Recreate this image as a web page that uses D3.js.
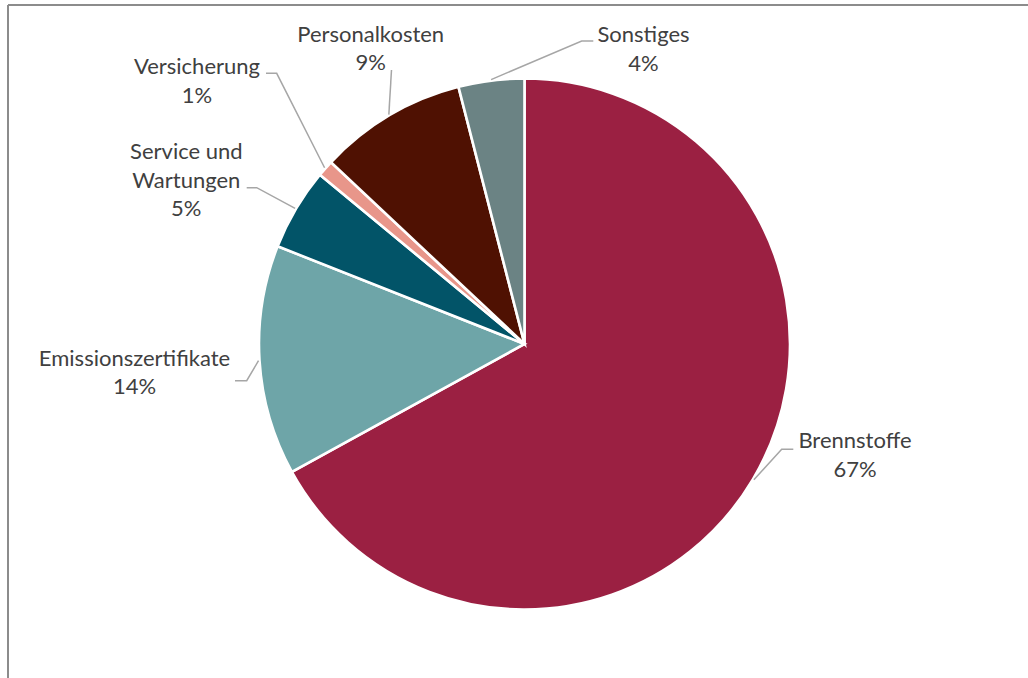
<!DOCTYPE html>
<html lang="de">
<head>
<meta charset="utf-8">
<title>Kostenstruktur</title>
<script src="https://cdn.jsdelivr.net/npm/d3@7"></script>
<style>
  html, body { margin: 0; padding: 0; background: #ffffff; }
  svg { display: block; }
  .label { font-family: Lato, "Open Sans", sans-serif; font-size: 22px; fill: #404040; }
</style>
</head>
<body>
<svg id="chart" width="1028" height="678"></svg>
<script>
// Cost shares in percent, clockwise from 12 o'clock
const categories = ["Brennstoffe", "Emissionszertifikate", "Service und Wartungen", "Versicherung", "Personalkosten", "Sonstiges"];
const shares = [67, 14, 5, 1, 9, 4];
const colors = ["#9B2042", "#6EA5A8", "#025468", "#E8968A", "#4F1102", "#6B8384"];

// Label text lines per slice (the category name may wrap)
const labelLines = [["Brennstoffe"], ["Emissionszertifikate"], ["Service und", "Wartungen"], ["Versicherung"], ["Personalkosten"], ["Sonstiges"]];

// Label placement relative to the pie centre: text centre x, first baseline y,
// leader elbow and leader end next to the text
const labelLayout = [
  { tx: 330.5, ty: 104.3, elbow: [257.2, 105.3], end: [268.8, 105.3] },
  { tx: -390,  ty: 21.7,  elbow: [-277.8, 36.7], end: [-289.5, 36.7] },
  { tx: -338.2, ty: -184.7, elbow: [-267.8, -156.3], end: [-277.8, -156.3] },
  { tx: -327.5, ty: -269.7, elbow: [-247.8, -270.7], end: [-258.5, -270.7] },
  { tx: -153.8, ty: -302.3, elbow: [-133, -274], end: [-133, -274] },
  { tx: 119,   ty: -302,  elbow: [57.2, -303], end: [68.8, -303] }
];

const width = 1028, height = 678;
const cx = 524.5, cy = 344, radius = 265.5;
const lineHeight = 28.5;

const svg = d3.select("#chart");

// Chart frame (top and left edges visible)
svg.append("line").attr("x1", 8).attr("y1", 5).attr("x2", width).attr("y2", 5)
  .attr("stroke", "#8c8c8c").attr("stroke-width", 2);
svg.append("line").attr("x1", 8).attr("y1", 5).attr("x2", 8).attr("y2", height)
  .attr("stroke", "#8c8c8c").attr("stroke-width", 2);

const data = categories.map((c, i) => ({ name: c, value: shares[i], color: colors[i], lines: labelLines[i], layout: labelLayout[i] }));
const total = d3.sum(shares);
const pct = v => d3.format(".0f")(v / total * 100) + "%";

const pie = d3.pie().sort(null).value(d => d.value).startAngle(0).endAngle(2 * Math.PI);
const arc = d3.arc().innerRadius(0).outerRadius(radius);
const arcs = pie(data);

const g = svg.append("g").attr("transform", `translate(${cx},${cy})`);

g.selectAll("path.slice")
  .data(arcs)
  .join("path")
  .attr("class", "slice")
  .attr("d", arc)
  .attr("fill", d => d.data.color)
  .attr("stroke", "#ffffff")
  .attr("stroke-width", 2.6)
  .attr("stroke-linejoin", "miter");

// Leader lines: from the slice edge at its mid-angle to the label
const leader = d3.line();
g.selectAll("path.leader")
  .data(arcs)
  .join("path")
  .attr("class", "leader")
  .attr("fill", "none")
  .attr("stroke", "#a6a6a6")
  .attr("stroke-width", 1.5)
  .attr("d", d => {
    const mid = (d.startAngle + d.endAngle) / 2;
    const r = radius + 1;
    const p0 = [Math.sin(mid) * r, -Math.cos(mid) * r];
    const L = d.data.layout;
    return leader([p0, L.elbow, L.end]);
  });

// Data labels: category name and share
const labels = g.selectAll("text.label")
  .data(arcs)
  .join("text")
  .attr("class", "label")
  .attr("text-anchor", "middle")
  .attr("x", d => d.data.layout.tx)
  .attr("y", d => d.data.layout.ty);

labels.each(function(d) {
  const t = d3.select(this);
  const lines = d.data.lines.concat([pct(d.data.value)]);
  lines.forEach((s, i) => {
    t.append("tspan")
      .attr("x", d.data.layout.tx)
      .attr("dy", i === 0 ? 0 : lineHeight)
      .text(s);
  });
});
</script>
</body>
</html>
